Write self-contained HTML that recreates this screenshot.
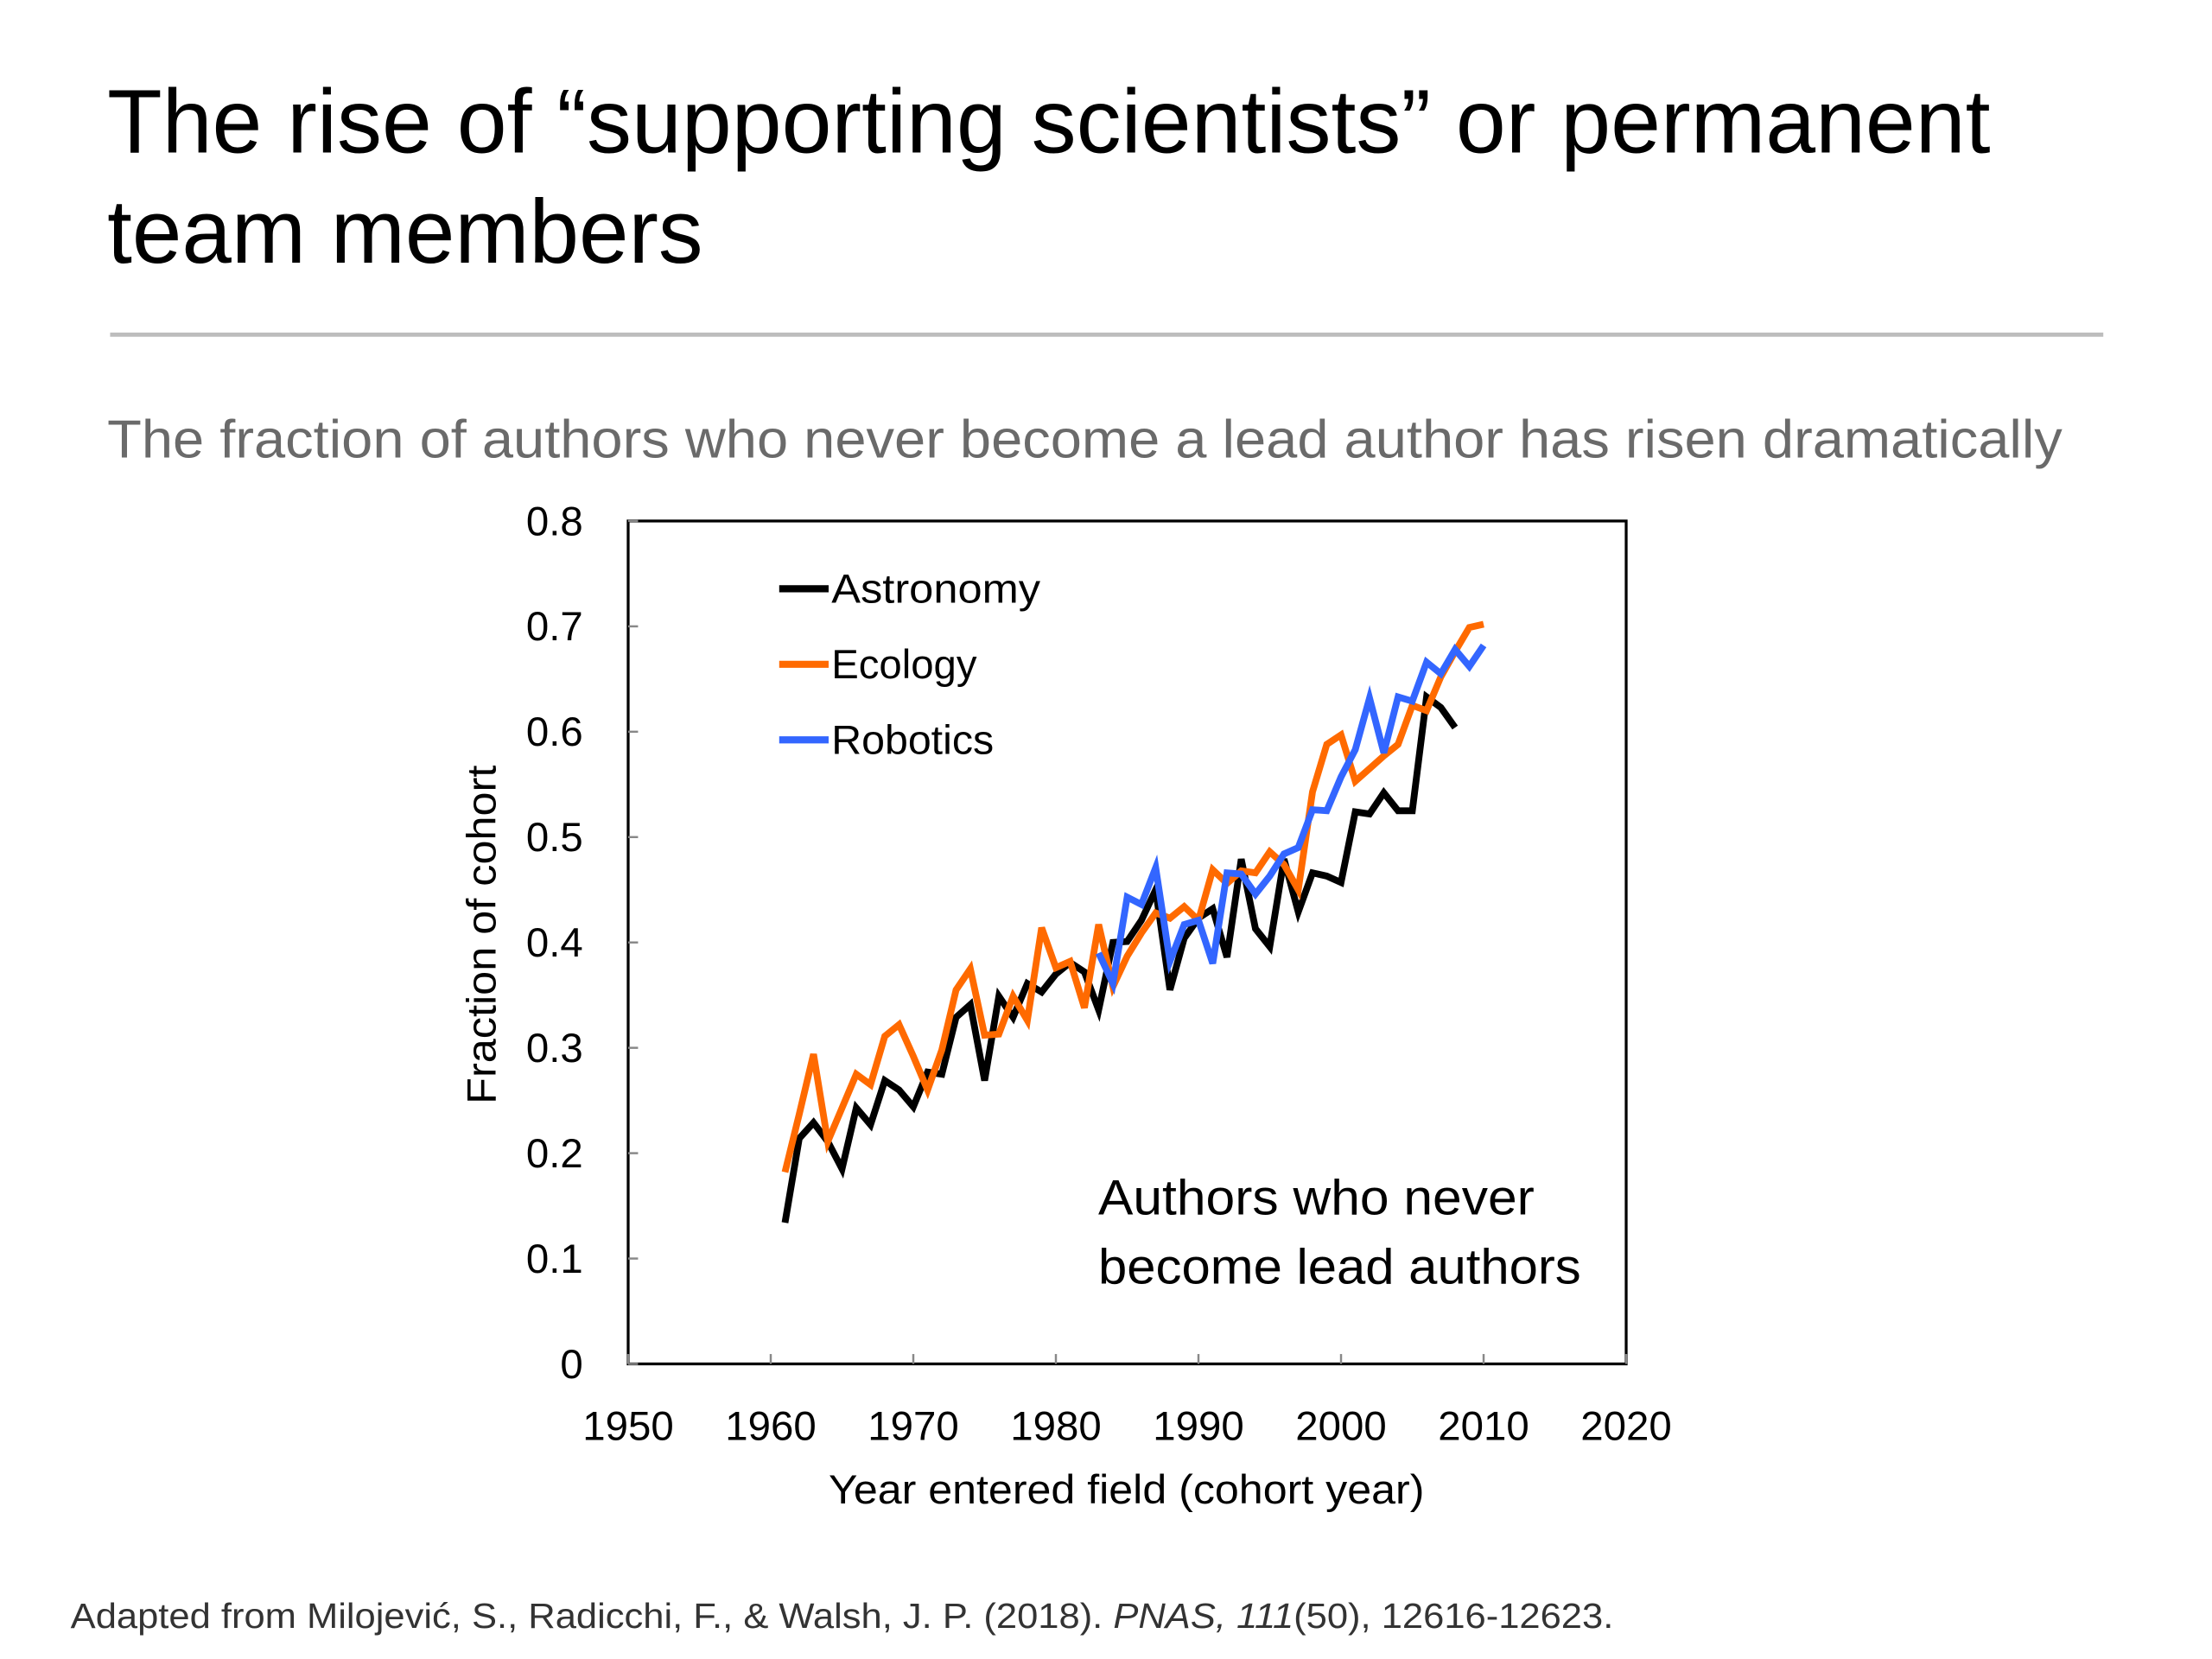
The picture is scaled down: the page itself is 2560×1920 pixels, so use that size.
<!DOCTYPE html>
<html><head><meta charset="utf-8"><style>
html,body{margin:0;padding:0;background:#fff;}
svg{display:block;}
text{font-family:"Liberation Sans",sans-serif;}
</style></head><body>
<svg id="s" width="2560" height="1920" viewBox="0 0 1567 1175" preserveAspectRatio="none" xmlns="http://www.w3.org/2000/svg">
<rect width="1567" height="1175" fill="#fff"/>
<text x="76" y="108" font-size="64" fill="#000" textLength="1334" lengthAdjust="spacingAndGlyphs">The rise of “supporting scientists” or permanent</text>
<text x="76" y="186" font-size="64" fill="#000" textLength="422" lengthAdjust="spacingAndGlyphs">team members</text>
<line x1="78" y1="237" x2="1490" y2="237" stroke="#bdbdbd" stroke-width="3"/>
<text x="76" y="324" font-size="38" fill="#6a6a6a" textLength="1385" lengthAdjust="spacingAndGlyphs">The fraction of authors who never become a lead author has risen dramatically</text>
<g id="chart"></g>
<text x="50" y="1153" font-size="25" fill="#333" textLength="1093" lengthAdjust="spacingAndGlyphs">Adapted from Milojević, S., Radicchi, F., &amp; Walsh, J. P.  (2018). <tspan font-style="italic">PNAS, 111</tspan>(50), 12616-12623.</text>
</svg>
<script>
const years = [1961,1962,1963,1964,1965,1966,1967,1968,1969,1970,1971,1972,1973,1974,1975,1976,1977,1978,1979,1980,1981,1982,1983,1984,1985,1986,1987,1988,1989,1990,1991,1992,1993,1994,1995,1996,1997,1998,1999,2000,2001,2002,2003,2004,2005,2006,2007,2008,2009,2010];
const astronomy = [0.134,0.214,0.229,0.211,0.185,0.243,0.227,0.269,0.260,0.244,0.277,0.275,0.329,0.341,0.269,0.349,0.329,0.361,0.353,0.370,0.381,0.372,0.336,0.400,0.401,0.421,0.450,0.355,0.404,0.423,0.432,0.386,0.479,0.413,0.396,0.479,0.429,0.466,0.463,0.457,0.524,0.522,0.542,0.525,0.525,0.633,0.623,0.604,null,null];
const ecology = [0.182,0.237,0.294,0.211,0.243,0.275,0.265,0.311,0.322,0.292,0.260,0.298,0.355,0.375,0.312,0.313,0.349,0.326,0.414,0.376,0.382,0.338,0.417,0.358,0.387,0.409,0.428,0.423,0.434,0.421,0.469,0.456,0.468,0.466,0.486,0.474,0.450,0.543,0.588,0.597,0.553,0.565,0.577,0.588,0.625,0.620,0.652,0.676,0.699,0.702];
const robotics = [null,null,null,null,null,null,null,null,null,null,null,null,null,null,null,null,null,null,null,null,null,null,0.390,0.361,0.443,0.436,0.471,0.382,0.417,0.421,0.380,0.466,0.465,0.446,0.463,0.484,0.490,0.526,0.525,0.557,0.583,0.632,0.580,0.633,0.629,0.666,0.655,0.678,0.662,0.682];
const seriesNames = ["Astronomy","Ecology","Robotics"];
const legendWidths = [148,103,115];
const xTicks = [1950,1960,1970,1980,1990,2000,2010,2020];
const yTicks = [0,0.1,0.2,0.3,0.4,0.5,0.6,0.7,0.8];
const yTickLabels = ["0","0.1","0.2","0.3","0.4","0.5","0.6","0.7","0.8"];

const NS="http://www.w3.org/2000/svg";
const g=document.getElementById('chart');
const L=445,R=1152,T=369,B=966;
const xs=v=>L+(v-1950)/70*(R-L);
const ys=v=>B-v/0.8*(B-T);
function mk(tag,attrs,parent){const e=document.createElementNS(NS,tag);for(const k in attrs)e.setAttribute(k,attrs[k]);(parent||g).appendChild(e);return e;}

const frame=mk('rect',{x:L,y:T,width:R-L,height:B-T,fill:'none',stroke:'#000','stroke-width':2});



yTicks.forEach((v,i)=>{
  const t=mk('line',{x1:L,x2:L+7,y1:ys(v),y2:ys(v),stroke:'#888','stroke-width':1.5});
  
  
  const tx=mk('text',{x:413,y:ys(v)+10,'font-size':29,'text-anchor':'end',fill:'#000'});
  tx.textContent=yTickLabels[i];
  
  
});
xTicks.forEach(v=>{
  const t=mk('line',{x1:xs(v),x2:xs(v),y1:B,y2:B-7,stroke:'#888','stroke-width':1.5});
  
  
  const tx=mk('text',{x:xs(v),y:1020,'font-size':29,'text-anchor':'middle',fill:'#000'});
  tx.textContent=String(v);
  
  
});
const xt=mk('text',{x:798,y:1065,'font-size':29,'text-anchor':'middle',fill:'#000',textLength:422,lengthAdjust:'spacingAndGlyphs'});
xt.textContent='Year entered field (cohort year)';


const yt=mk('text',{x:0,y:0,'font-size':29,'text-anchor':'middle',fill:'#000',transform:'translate(351,662) rotate(-90)',textLength:240,lengthAdjust:'spacingAndGlyphs'});
yt.textContent='Fraction of cohort';



const colors=['#000000','#ff6a00','#3366ff'];
[astronomy,ecology,robotics].forEach((arr,si)=>{
  let d='';let started=false;
  arr.forEach((v,i)=>{if(v==null)return;d+=(started?'L':'M')+xs(years[i]).toFixed(1)+','+ys(v).toFixed(1);started=true;});
  const p=mk('path',{d:d,fill:'none',stroke:colors[si],'stroke-width':4.8,'stroke-linejoin':'miter'});
  
  
  const ly=417+si*53.5;
  const ll=mk('line',{x1:552,x2:587,y1:ly,y2:ly,stroke:colors[si],'stroke-width':5});
  
  
  const lt=mk('text',{x:589,y:ly+10,'font-size':29,fill:'#000',textLength:legendWidths[si],lengthAdjust:'spacingAndGlyphs'});
  lt.textContent=seriesNames[si];
  
  
});
const a1=mk('text',{x:778,y:860,'font-size':35,fill:'#000',textLength:309,lengthAdjust:'spacingAndGlyphs'});
a1.textContent='Authors who never';


const a2=mk('text',{x:778,y:909,'font-size':35,fill:'#000',textLength:342,lengthAdjust:'spacingAndGlyphs'});
a2.textContent='become lead authors';


</script>
</body></html>
